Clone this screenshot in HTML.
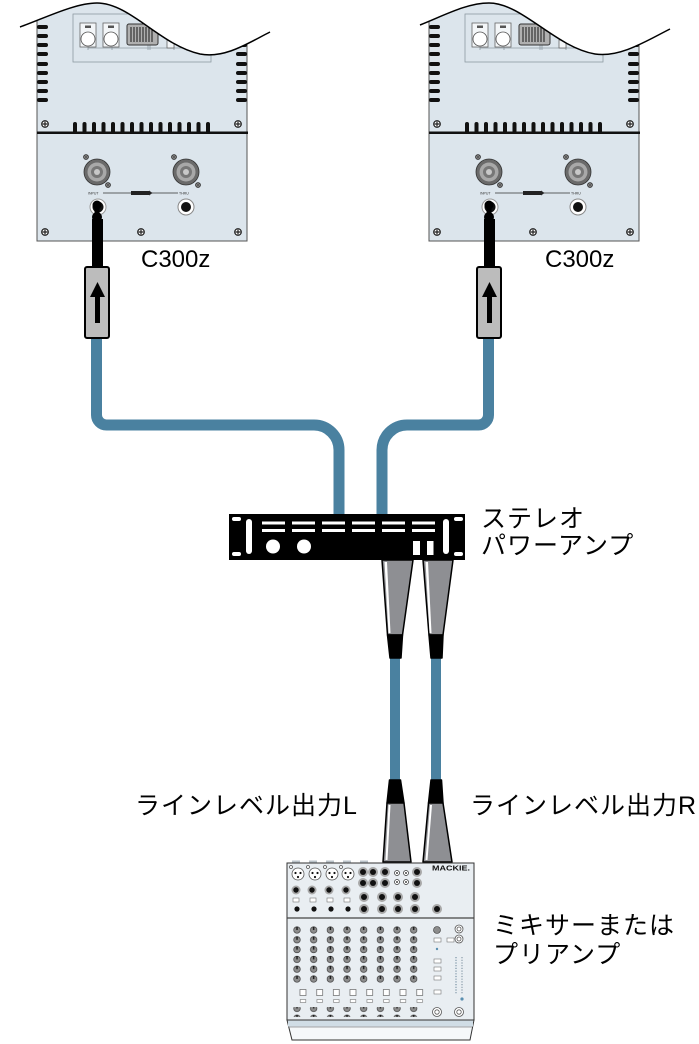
<!DOCTYPE html>
<html><head><meta charset="utf-8">
<style>
html,body{margin:0;padding:0;background:#fff;}
svg{display:block;}
.jp{font-family:"Liberation Sans","Noto Sans CJK JP",sans-serif;font-size:25px;fill:#000;letter-spacing:1px;}
.lat{font-family:"Liberation Sans",sans-serif;font-size:24px;fill:#000;}
.tiny{font-family:"Liberation Sans",sans-serif;font-size:3.5px;fill:#333;}
</style></head><body>
<svg width="699" height="1044" viewBox="0 0 699 1044" xmlns="http://www.w3.org/2000/svg">
<defs>
 <g id="screw">
  <circle r="3.3" fill="#fff" stroke="#222" stroke-width="1.2"/>
  <path d="M-2.5,0H2.5M0,-2.5V2.5" stroke="#222" stroke-width="1.2"/>
 </g>
 <g id="sscrew">
  <circle r="2.3" fill="#fff" stroke="#222" stroke-width="1"/>
  <path d="M-1.7,0H1.7M0,-1.7V1.7" stroke="#222" stroke-width="0.9"/>
 </g>
 <g id="speakon">
  <circle r="13" fill="#6a6a6a" stroke="#333" stroke-width="0.8"/>
  <circle r="9.5" fill="#a8a8a8"/>
  <circle r="6" fill="#777"/>
  <circle r="3" fill="#c8c8c8"/>
 </g>
 <g id="spk">
  <rect x="37" y="0" width="210" height="241" fill="#dce5ec" stroke="#555" stroke-width="1"/>
  <rect x="73" y="14" width="138" height="48" fill="none" stroke="#8e9aa2" stroke-width="0.8"/>
  <path d="M88,48H207M88,47V50M112,47V50M148,44V50M150,44V50M174,44V50" stroke="#8e9aa2" stroke-width="0.8" fill="none"/>
  <rect x="80" y="23" width="16" height="24" fill="#f3f6f8" stroke="#666" stroke-width="0.8"/>
  <rect x="85" y="25.5" width="6" height="2.5" fill="#555"/>
  <circle cx="88" cy="39" r="7" fill="#fff" stroke="#555" stroke-width="0.8"/>
  <rect x="103" y="23" width="16" height="24" fill="#f3f6f8" stroke="#666" stroke-width="0.8"/>
  <rect x="108" y="25.5" width="6" height="2.5" fill="#555"/>
  <circle cx="111" cy="39" r="7" fill="#fff" stroke="#555" stroke-width="0.8"/>
  <rect x="127" y="24" width="31" height="21" rx="2" fill="#b0b0b0" stroke="#333" stroke-width="1"/>
  <path d="M131,27V42M134,27V42M137,27V42M140,27V42M143,27V42M146,27V42M149,27V42M152,27V42" stroke="#333" stroke-width="1.2"/>
  <rect x="167" y="40" width="7" height="8" fill="#f3f6f8" stroke="#666" stroke-width="0.8"/>
  <g fill="#111">
   <rect x="37" y="25" width="11" height="4" rx="2"/><rect x="37" y="34" width="11" height="4" rx="2"/>
   <rect x="37" y="43" width="11" height="4" rx="2"/><rect x="37" y="52" width="11" height="4" rx="2"/>
   <rect x="37" y="62" width="11" height="4" rx="2"/><rect x="37" y="71" width="11" height="4" rx="2"/>
   <rect x="37" y="80" width="11" height="4" rx="2"/><rect x="37" y="89" width="11" height="4" rx="2"/>
   <rect x="37" y="98" width="11" height="4" rx="2"/>
   <rect x="236" y="25" width="11" height="4" rx="2"/><rect x="236" y="34" width="11" height="4" rx="2"/>
   <rect x="236" y="43" width="11" height="4" rx="2"/><rect x="236" y="52" width="11" height="4" rx="2"/>
   <rect x="236" y="62" width="11" height="4" rx="2"/><rect x="236" y="71" width="11" height="4" rx="2"/>
   <rect x="236" y="80" width="11" height="4" rx="2"/><rect x="236" y="89" width="11" height="4" rx="2"/>
   <rect x="236" y="98" width="11" height="4" rx="2"/>
   <rect x="73" y="122" width="4" height="12" rx="2"/><rect x="82.5" y="122" width="4" height="12" rx="2"/>
   <rect x="92" y="122" width="4" height="12" rx="2"/><rect x="101.5" y="122" width="4" height="12" rx="2"/>
   <rect x="111" y="122" width="4" height="12" rx="2"/><rect x="120.5" y="122" width="4" height="12" rx="2"/>
   <rect x="130" y="122" width="4" height="12" rx="2"/><rect x="139.5" y="122" width="4" height="12" rx="2"/>
   <rect x="149" y="122" width="4" height="12" rx="2"/><rect x="158.5" y="122" width="4" height="12" rx="2"/>
   <rect x="168" y="122" width="4" height="12" rx="2"/><rect x="177.5" y="122" width="4" height="12" rx="2"/>
   <rect x="187" y="122" width="4" height="12" rx="2"/><rect x="196.5" y="122" width="4" height="12" rx="2"/>
   <rect x="206" y="122" width="4" height="12" rx="2"/>
   <rect x="37" y="131.5" width="211" height="2.5"/>
  </g>
  <use href="#screw" x="45" y="124"/>
  <use href="#screw" x="238" y="124"/>
  <use href="#screw" x="45" y="232"/>
  <use href="#screw" x="141" y="232"/>
  <use href="#screw" x="238" y="232"/>
  <use href="#speakon" x="97" y="172"/>
  <use href="#speakon" x="186" y="172"/>
  <use href="#sscrew" x="86" y="157"/>
  <use href="#sscrew" x="108" y="185"/>
  <use href="#sscrew" x="174" y="157"/>
  <use href="#sscrew" x="198" y="185"/>
  <text class="tiny" x="88" y="194.5">INPUT</text>
  <path d="M103,193H131M152,193H178" stroke="#333" stroke-width="0.7"/>
  <rect x="131" y="191" width="18" height="4" fill="#222"/>
  <polygon points="149,190.5 152.5,193 149,195.5" fill="#222"/>
  <text class="tiny" x="179" y="194.5">THRU</text>
  <circle cx="98" cy="207" r="8" fill="#fff" stroke="#999" stroke-width="1"/>
  <circle cx="98" cy="207" r="5.5" fill="#111"/>
  <circle cx="186" cy="207" r="8" fill="#fff" stroke="#888" stroke-width="1"/>
  <circle cx="186" cy="207" r="5" fill="#111"/>
 </g>
 <g id="plug">
  <circle cx="97" cy="205" r="4.5" fill="#000"/>
  <rect x="94.5" y="207" width="5" height="8" fill="#000"/>
  <circle cx="97" cy="217" r="5" fill="#000"/>
  <rect x="92" y="219" width="11" height="49" fill="#000"/>
  <rect x="85" y="267" width="24" height="71" rx="2" fill="#bcbcbc" stroke="#000" stroke-width="2"/>
  <rect x="95" y="294" width="5" height="29" fill="#000"/>
  <polygon points="90,297 105,297 97.5,282" fill="#000"/>
 </g>
 <pattern id="knobP" patternUnits="userSpaceOnUse" x="288.67" y="925.1" width="16.67" height="9.8">
  <circle cx="8.33" cy="4.9" r="3.3" fill="#8c8c8c" stroke="#333" stroke-width="0.6"/>
  <rect x="7.7" y="1.6" width="1.3" height="3.3" fill="#111"/>
 </pattern>
 <pattern id="sqP" patternUnits="userSpaceOnUse" x="294.67" y="988" width="16.67" height="20">
  <rect x="5.3" y="1.5" width="6" height="6" fill="#fff" stroke="#666" stroke-width="0.7"/>
  <rect x="5.6" y="11.5" width="5.5" height="3" fill="#fff" stroke="#777" stroke-width="0.6"/>
 </pattern>
</defs>

<path d="M96.5,336 V415 A10,10 0 0 0 106.5,425 H314 A25,25 0 0 1 339,450 V515" fill="none" stroke="#4a81a0" stroke-width="11"/>
<path d="M382,515 V450 A25,25 0 0 1 407,425 H478.5 A10,10 0 0 0 488.5,415 V336" fill="none" stroke="#4a81a0" stroke-width="11"/>
<rect x="390" y="655" width="10" height="128" fill="#4a81a0"/>
<rect x="431" y="655" width="10" height="128" fill="#4a81a0"/>

<use href="#spk"/>
<use href="#spk" x="392"/>
<path d="M20,27 C45,18 75,3 97,3 C130,3 160,45 200,54 C225,59 250,42 270,32 L272,-2 L18,-2 Z" fill="#fff"/>
<path d="M20,27 C45,18 75,3 97,3 C130,3 160,45 200,54 C225,59 250,42 270,32" fill="none" stroke="#000" stroke-width="1.5"/>
<path d="M420,25 C445,15 467,3 489,3 C522,3 555,47 595,54 C620,58 648,40 670,29 L672,-2 L418,-2 Z" fill="#fff"/>
<path d="M420,25 C445,15 467,3 489,3 C522,3 555,47 595,54 C620,58 648,40 670,29" fill="none" stroke="#000" stroke-width="1.5"/>
<use href="#plug"/>
<use href="#plug" x="392"/>

<text class="lat" x="141" y="267">C300z</text>
<text class="lat" x="545" y="267">C300z</text>

<rect x="229" y="514" width="236" height="46" fill="#000"/>
<g fill="#fff">
 <rect x="232" y="517" width="9" height="4" rx="2"/>
 <rect x="232" y="552" width="9" height="4" rx="2"/>
 <rect x="454" y="517" width="9" height="4" rx="2"/>
 <rect x="454" y="552" width="9" height="4" rx="2"/>
 <rect x="246" y="519" width="6" height="35" rx="3"/>
 <rect x="443" y="519" width="6" height="35" rx="3"/>
 <rect x="262" y="521.5" width="23" height="3"/><rect x="292" y="521.5" width="23" height="3"/>
 <rect x="322" y="521.5" width="23" height="3"/><rect x="352" y="521.5" width="23" height="3"/>
 <rect x="382" y="521.5" width="23" height="3"/><rect x="412" y="521.5" width="23" height="3"/>
 <rect x="262" y="529" width="23" height="3"/><rect x="292" y="529" width="23" height="3"/>
 <rect x="322" y="529" width="23" height="3"/><rect x="352" y="529" width="23" height="3"/>
 <rect x="382" y="529" width="23" height="3"/><rect x="412" y="529" width="23" height="3"/>
 <circle cx="273" cy="546.5" r="7"/>
 <circle cx="304" cy="546.5" r="7"/>
 <rect x="413" y="541" width="7" height="14"/>
 <rect x="427" y="541" width="6.5" height="14"/>
</g>

<g stroke="#000" stroke-width="1.5" stroke-linejoin="round">
 <polygon points="382,560 413,560 402.5,635 387.5,635" fill="#8e8f93"/>
 <polygon points="387.5,635 402.5,635 401,658 390,658" fill="#000"/>
 <polygon points="423,560 453,560 443,635 429,635" fill="#8e8f93"/>
 <polygon points="429,635 443,635 442,658 431,658" fill="#000"/>
</g>
<polygon points="384.5,562 387,562 390.5,633 388.5,633" fill="#fff"/>
<polygon points="425.5,562 428,562 431.5,633 429.5,633" fill="#fff"/>

<g stroke="#000" stroke-width="1.5" stroke-linejoin="round">
 <polygon points="389.5,780 400.5,780 404,803 387,803" fill="#000"/>
 <polygon points="387,803 404,803 411,862 383,862" fill="#8e8f93"/>
 <polygon points="431,780 441.5,780 443,803 428.5,803" fill="#000"/>
 <polygon points="428.5,803 443,803 452,862 423,862" fill="#8e8f93"/>
</g>
<polygon points="388.5,805 390.5,805 387.5,860 385.5,860" fill="#fff"/>
<polygon points="430,805 432,805 427.5,860 425.5,860" fill="#fff"/>

<g fill="#b9c2c8">
 <rect x="292" y="860.5" width="8" height="2.5"/><rect x="309" y="860.5" width="8" height="2.5"/>
 <rect x="326" y="860.5" width="8" height="2.5"/><rect x="343" y="860.5" width="8" height="2.5"/>
 <rect x="360" y="860.5" width="8" height="2.5"/>
</g>
<rect x="287" y="863" width="187" height="157" fill="#e9eef2" stroke="#333" stroke-width="1"/>
<line x1="287" y1="918" x2="474" y2="918" stroke="#444" stroke-width="1.2"/>
<g>
 <g fill="#fff" stroke="#555" stroke-width="0.8">
  <circle cx="298" cy="874" r="6"/><circle cx="315" cy="874" r="6"/>
  <circle cx="332" cy="874" r="6"/><circle cx="348" cy="874" r="6"/>
  <circle cx="291" cy="867" r="1.5"/><circle cx="308" cy="867" r="1.5"/>
  <circle cx="325" cy="867" r="1.5"/><circle cx="341" cy="867" r="1.5"/>
 </g>
 <g fill="#111">
  <circle cx="295.5" cy="873" r="1.1"/><circle cx="300.5" cy="873" r="1.1"/><circle cx="298" cy="877" r="1.1"/>
  <circle cx="312.5" cy="873" r="1.1"/><circle cx="317.5" cy="873" r="1.1"/><circle cx="315" cy="877" r="1.1"/>
  <circle cx="329.5" cy="873" r="1.1"/><circle cx="334.5" cy="873" r="1.1"/><circle cx="332" cy="877" r="1.1"/>
  <circle cx="345.5" cy="873" r="1.1"/><circle cx="350.5" cy="873" r="1.1"/><circle cx="348" cy="877" r="1.1"/>
 </g>
 <g fill="#a8a8a8">
  <circle cx="296" cy="890" r="4.5"/><circle cx="312" cy="890" r="4.5"/><circle cx="329" cy="890" r="4.5"/><circle cx="346" cy="890" r="4.5"/>
  <circle cx="363" cy="872" r="5"/><circle cx="373" cy="872" r="5"/><circle cx="385" cy="872" r="5"/><circle cx="417" cy="872" r="5"/>
  <circle cx="363" cy="883" r="5"/><circle cx="373" cy="883" r="5"/><circle cx="385" cy="883" r="5"/><circle cx="417" cy="883" r="5"/>
  <circle cx="364" cy="897" r="5"/><circle cx="382" cy="897" r="5"/><circle cx="398" cy="897" r="5"/><circle cx="415" cy="897" r="5"/>
  <circle cx="364" cy="909" r="5"/><circle cx="382" cy="909" r="5"/><circle cx="398" cy="909" r="5"/><circle cx="415" cy="909" r="5"/>
  <circle cx="437" cy="909" r="5"/>
 </g>
 <g fill="#111">
  <circle cx="296" cy="890" r="2.7"/><circle cx="312" cy="890" r="2.7"/><circle cx="329" cy="890" r="2.7"/><circle cx="346" cy="890" r="2.7"/>
  <circle cx="363" cy="872" r="3"/><circle cx="373" cy="872" r="3"/><circle cx="385" cy="872" r="3"/><circle cx="417" cy="872" r="3"/>
  <circle cx="363" cy="883" r="3"/><circle cx="373" cy="883" r="3"/><circle cx="385" cy="883" r="3"/><circle cx="417" cy="883" r="3"/>
  <circle cx="364" cy="897" r="3"/><circle cx="382" cy="897" r="3"/><circle cx="398" cy="897" r="3"/><circle cx="415" cy="897" r="3"/>
  <circle cx="364" cy="909" r="3"/><circle cx="382" cy="909" r="3"/><circle cx="398" cy="909" r="3"/><circle cx="415" cy="909" r="3"/>
  <circle cx="437" cy="909" r="3"/>
  <circle cx="297" cy="909" r="2.6"/><circle cx="314" cy="909" r="2.6"/><circle cx="331" cy="909" r="2.6"/><circle cx="348" cy="909" r="2.6"/>
 </g>
 <g fill="#fff" stroke="#333" stroke-width="0.7">
  <circle cx="397" cy="873" r="2.5"/><circle cx="406" cy="873" r="2.5"/>
  <circle cx="397" cy="882" r="2.5"/><circle cx="406" cy="882" r="2.5"/>
 </g>
 <g fill="#111">
  <circle cx="397" cy="873" r="0.9"/><circle cx="406" cy="873" r="0.9"/>
  <circle cx="397" cy="882" r="0.9"/><circle cx="406" cy="882" r="0.9"/>
 </g>
 <g fill="#fff" stroke="#777" stroke-width="0.6">
  <rect x="293" y="898" width="6" height="4"/><rect x="310" y="898" width="6" height="4"/>
  <rect x="327" y="898" width="6" height="4"/><rect x="344" y="898" width="6" height="4"/>
 </g>
 <text x="432" y="870.5" font-family="Liberation Sans, sans-serif" font-weight="bold" font-size="7" textLength="38" lengthAdjust="spacingAndGlyphs" fill="#111">MACKIE.</text>
</g>
<rect x="288.67" y="925.1" width="133.36" height="58.8" fill="url(#knobP)"/>
<rect x="294.67" y="988" width="133.36" height="18" fill="url(#sqP)"/>
<rect x="288.67" y="1007.1" width="133.36" height="9.8" fill="url(#knobP)"/>
<g fill="#fff" stroke="#555" stroke-width="0.8">
 <circle cx="459" cy="929" r="4"/><circle cx="459" cy="939" r="4"/>
 <circle cx="437" cy="1012" r="4.5"/><circle cx="459" cy="1012" r="4.5"/>
</g>
<g fill="none" stroke="#555" stroke-width="0.8">
 <circle cx="459" cy="929" r="2"/><circle cx="459" cy="939" r="2"/>
 <circle cx="437" cy="1012" r="2.2"/><circle cx="459" cy="1012" r="2.2"/>
</g>
<circle cx="437" cy="930" r="3.5" fill="#8c8c8c" stroke="#333" stroke-width="0.6"/>
<g fill="#fff" stroke="#777" stroke-width="0.6">
 <rect x="434" y="938" width="7" height="4"/><rect x="447" y="938" width="7" height="4"/>
 <rect x="434" y="959" width="7" height="4"/><rect x="434" y="967" width="7" height="4"/>
 <rect x="434" y="976" width="7" height="4"/><rect x="434" y="990" width="7" height="4"/>
</g>
<circle cx="437" cy="949" r="1.2" fill="#5a8fb0"/>
<circle cx="462" cy="999" r="1.6" fill="#5a8fb0"/>
<line x1="456" y1="957" x2="456" y2="994" stroke="#8ea3b3" stroke-width="1.5" stroke-dasharray="1.2,1.5"/>
<line x1="462" y1="957" x2="462" y2="994" stroke="#9aaab6" stroke-width="1.5" stroke-dasharray="1.2,1.5"/>
<polygon points="287,1020 474,1020 470,1040 292,1040" fill="#f5f8fa" stroke="#333" stroke-width="1"/>
<rect x="288" y="1020.5" width="185" height="6" fill="#d0dde6"/>
<line x1="289" y1="1027" x2="472" y2="1027" stroke="#888" stroke-width="0.7"/>

<text class="jp" x="481" y="527">ステレオ</text>
<text class="jp" x="481" y="554">パワーアンプ</text>
<text class="jp" x="135" y="814">ラインレベル出力L</text>
<text class="jp" x="470" y="814">ラインレベル出力R</text>
<text class="jp" x="493" y="934">ミキサーまたは</text>
<text class="jp" x="493" y="963">プリアンプ</text>
</svg>
</body></html>
